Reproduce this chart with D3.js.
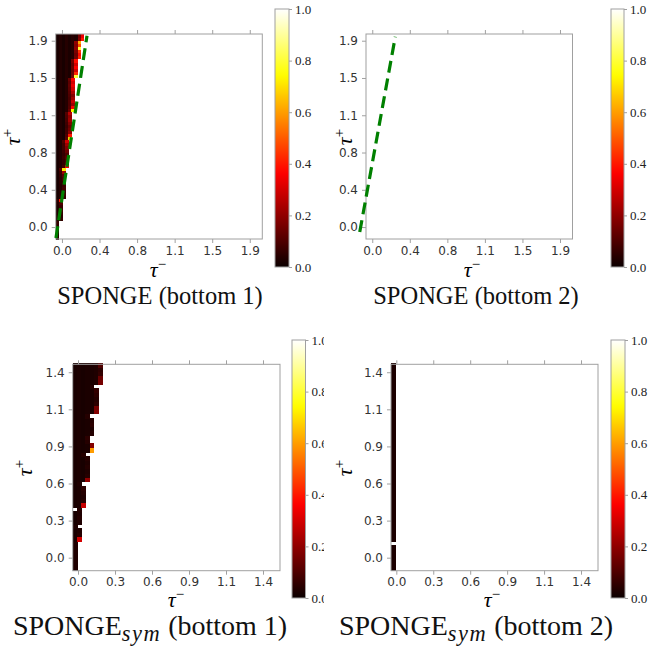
<!DOCTYPE html>
<html><head><meta charset="utf-8">
<script src="https://cdn.jsdelivr.net/npm/d3@7"></script>
<style>body{margin:0;background:#fff}svg{display:block}</style>
</head><body>
<svg id="chart" width="648" height="646"></svg>
<script>
// ---------------- DATA ----------------
const topTickValues = [0, 0.375, 0.75, 1.125, 1.5, 1.875];
const topTickLabels = ["0.0", "0.4", "0.8", "1.1", "1.5", "1.9"];
const bottomTickValues = [0, 0.285, 0.57, 0.855, 1.14, 1.425];
const bottomTickLabels = ["0.0", "0.3", "0.6", "0.9", "1.1", "1.4"];
const colorbarTicks = [0, 0.2, 0.4, 0.6, 0.8, 1.0];

const titles = ["SPONGE (bottom 1)", "SPONGE (bottom 2)", "SPONGE|sym| (bottom 1)", "SPONGE|sym| (bottom 2)"];

// top grid: tau step and origin
const topGridStep = 0.03125;
const topGridX0 = -0.0625, topGridY0 = -0.12;
// SPONGE (bottom 1): filled cells per row (bottom to top), last-cell value, second-last value
const topLeftRowWidth = [1,1,1,1,1,1, 2,2,2,2,2,2,2, 3,3,3,3,3,3,3,3,3,3, 4,4,4,4,4,4,4,4,4, 5,5,5,5,5,5,5,5,5, 6,6,6,6,6,6,6,6,6,6,6, 7,7,7,7,7,7, 8,8,8,8,8,8, 9,9];
const topLeftEdge = [0.04,0.04,0.05,0.04,0.05,0.06, 0.06,0.05,0.06,0.08,0.07,0.10,0.40, 0.06,0.07,0.06,0.08,0.07,0.06,0.09,0.12,0.22,0.72, 0.35,0.12,0.10,0.12,0.10,0.14,0.18,0.22,0.30, 0.68,0.40,0.20,0.16,0.14,0.18,0.22,0.20,0.26, 0.74,0.36,0.22,0.28,0.22,0.18,0.24,0.30,0.34,0.30,0.36, 0.80,0.42,0.30,0.36,0.30,0.38, 0.42,0.38,0.44,0.80,0.48,0.62, 0.40,0.34];
const topLeftInner = [0.03,0.03,0.03,0.03,0.03,0.03, 0.03,0.03,0.03,0.03,0.03,0.04,0.05, 0.04,0.04,0.04,0.04,0.04,0.05,0.05,0.06,0.07,0.10, 0.08,0.06,0.06,0.07,0.06,0.07,0.08,0.08,0.10, 0.12,0.10,0.08,0.08,0.07,0.08,0.09,0.10,0.11, 0.14,0.11,0.10,0.10,0.09,0.10,0.11,0.12,0.13,0.12,0.14, 0.16,0.14,0.13,0.14,0.13,0.15, 0.16,0.15,0.17,0.20,0.18,0.20, 0.18,0.16];
const topLeftColBase = [0.02, 0.035, 0.02, 0.04, 0.025, 0.04, 0.03, 0.05, 0.06];
// dashed reference line
const topLeftLineX = [-0.06, 0.25], topLeftLineY = [-0.11, 1.925];
const topRightLineX = [-0.125, 0.23], topRightLineY = [-0.05, 1.915];

// bottom grid
const bottomGridStep = 0.0326;
const bottomGridX0 = -0.041, bottomGridY0 = -0.1;
const bottomLeftRowWidth = [1,1,1,1,1,1,1, 2,2,2, 1, 2,2,2,2, 3,3,3,3,3, 2, 4,4,4,4,4,4, 3, 5,5, 4,4, 5,5,5,5, 4, 6,6,6,6,6,6, 5, 7,7,7,7,7];
const bottomLeftEdge = [0.03,0.03,0.03,0.03,0.03,0.03,0.03, 0.30,0.04,0.03, 0.03, 0.03,0.04,0.03,0.04, 0.28,0.04,0.03,0.04,0.05, 0.03, 0.20,0.04,0.03,0.04,0.03,0.04, 0.04, 0.60,0.18, 0.04,0.05, 0.04,0.03,0.05,0.04, 0.04, 0.18,0.16,0.05,0.04,0.05,0.06, 0.04, 0.16,0.14,0.06,0.05,0.10];
const bottomLeftColBase = [0.02, 0.025, 0.02, 0.025, 0.025, 0.03, 0.03];
const bottomLeftHoles = [[14, 0]];
const bottomRightRowWidth = [1,1,1,1,1,1,0, 1,1,1,1,1,1,1,1,1,1,1,1,1,1,1,1,1,1,1,1,1,1,1,1,1,1,1,1,1,1,1,1,1,1,1,1,1,1,1,1,1,1];
const bottomRightColBase = [0.025];

// ---------------- HELPERS ----------------
function hot(v) {
  const r = Math.min(1, 0.0416 + (1 - 0.0416) * v / 0.365079);
  const g = Math.max(0, Math.min(1, (v - 0.365079) / (0.746032 - 0.365079)));
  const b = Math.max(0, Math.min(1, (v - 0.746032) / (1 - 0.746032)));
  return d3.rgb(r * 255, g * 255, b * 255).toString();
}

const svg = d3.select("#chart");
const defs = svg.append("defs");
const grad = defs.append("linearGradient").attr("id", "hotGrad")
  .attr("x1", 0).attr("y1", 1).attr("x2", 0).attr("y2", 0);
d3.range(0, 1.0001, 0.02).forEach(t => grad.append("stop").attr("offset", t).attr("stop-color", hot(t)));

const tickFont = "'DejaVu Sans', sans-serif";
const serif = "'Liberation Serif', 'DejaVu Serif', serif";
const spineColor = "#a0a0a0";

function drawPanel(p) {
  const g = svg.append("g");
  if (p.cover) {
    g.append("rect").attr("x", p.cover[0]).attr("y", p.cover[1])
      .attr("width", p.cover[2]).attr("height", p.cover[3]).attr("fill", "#fff");
  }
  const x = d3.scaleLinear().domain(p.xDomain).range([p.box.x0, p.box.x1]);
  const y = d3.scaleLinear().domain(p.yDomain).range([p.box.y1, p.box.y0]);

  // heatmap cells
  if (p.rows) {
    const cells = [];
    p.rows.forEach((n, r) => {
      for (let c = 0; c < n; c++) {
        if (p.holes && p.holes.some(h => h[0] === r && h[1] === c)) continue;
        let v = p.colBase[Math.min(c, p.colBase.length - 1)];
        if (p.edge && c === n - 1) v = p.edge[r];
        else if (p.inner && c === n - 2) v = p.inner[r];
        cells.push({ r, c, v });
      }
    });
    g.append("g").attr("shape-rendering", "crispEdges").selectAll("rect").data(cells).join("rect")
      .attr("x", d => x(p.gx0 + d.c * p.step))
      .attr("y", d => y(p.gy0 + (d.r + 1) * p.step))
      .attr("width", d => x(p.gx0 + (d.c + 1) * p.step) - x(p.gx0 + d.c * p.step) + 0.6)
      .attr("height", d => y(p.gy0 + d.r * p.step) - y(p.gy0 + (d.r + 1) * p.step) + 0.6)
      .attr("fill", d => hot(d.v));
  }

  // frame
  g.append("rect").attr("x", p.box.x0).attr("y", p.box.y0)
    .attr("width", p.box.x1 - p.box.x0).attr("height", p.box.y1 - p.box.y0)
    .attr("fill", "none").attr("stroke", spineColor).attr("stroke-width", 1);

  const fmt = (labels, vals) => d => labels[vals.indexOf(d)];
  const ax = g.append("g").attr("transform", `translate(0,${p.box.y1})`)
    .call(d3.axisBottom(x).tickValues(p.ticks).tickFormat(fmt(p.labels, p.ticks)).tickSize(4).tickPadding(3));
  const axTop = g.append("g").attr("transform", `translate(0,${p.box.y0})`)
    .call(d3.axisTop(x).tickValues(p.ticks).tickFormat("").tickSize(4));
  const ay = g.append("g").attr("transform", `translate(${p.box.x0},0)`)
    .call(d3.axisLeft(y).tickValues(p.ticks).tickFormat(fmt(p.labels, p.ticks)).tickSize(4).tickPadding(4));
  [ax, axTop, ay].forEach(a => {
    a.select(".domain").remove();
    a.selectAll(".tick line").attr("stroke", spineColor);
    a.selectAll(".tick text").attr("font-family", tickFont).attr("font-size", 12).attr("fill", "#333");
  });

  // dashed line
  if (p.lineX) {
    g.append("line")
      .attr("x1", x(p.lineX[0])).attr("y1", y(p.lineY[0]))
      .attr("x2", x(p.lineX[1])).attr("y2", y(p.lineY[1]))
      .attr("stroke", "#008000").attr("stroke-width", 3.2)
      .attr("stroke-dasharray", "12,6");
  }

  // axis labels
  const xl = g.append("text").attr("x", p.xlab[0]).attr("y", p.xlab[1])
    .attr("text-anchor", "middle").attr("font-family", serif).attr("font-size", 22);
  xl.append("tspan").attr("font-style", "italic").text("τ");
  xl.append("tspan").attr("font-size", 15).attr("dy", -8).text("−");
  const yl = g.append("text").attr("transform", `translate(${p.ylab[0]},${p.ylab[1]}) rotate(-90)`)
    .attr("text-anchor", "middle").attr("font-family", serif).attr("font-size", 22);
  yl.append("tspan").attr("font-style", "italic").text("τ");
  yl.append("tspan").attr("font-size", 15).attr("dy", -8).text("+");

  // colorbar
  const cb = p.cb;
  g.append("rect").attr("x", cb.x).attr("y", cb.y0).attr("width", cb.w).attr("height", cb.y1 - cb.y0)
    .attr("fill", "url(#hotGrad)").attr("stroke", spineColor).attr("stroke-width", 1);
  const cs = d3.scaleLinear().domain([0, 1]).range([cb.y1, cb.y0]);
  const ac = g.append("g").attr("transform", `translate(${cb.x + cb.w},0)`)
    .call(d3.axisRight(cs).tickValues(colorbarTicks).tickFormat(d3.format(".1f")).tickSize(3).tickPadding(3));
  ac.select(".domain").remove();
  ac.selectAll(".tick line").attr("stroke", spineColor);
  ac.selectAll(".tick text").attr("font-family", serif).attr("font-size", 13).attr("fill", "#222");

  // title
  const parts = p.title.split("|");
  const t = g.append("text").attr("x", p.titlePos[0]).attr("y", p.titlePos[1])
    .attr("text-anchor", "middle").attr("font-family", serif).attr("font-size", p.titleSize).attr("fill", "#111");
  t.append("tspan").text(parts[0]);
  if (parts.length > 1) {
    t.append("tspan").attr("font-style", "italic").attr("font-size", p.titleSize * 0.8)
      .attr("letter-spacing", 1.5).attr("dy", 6).text(parts[1]);
    t.append("tspan").attr("dy", -6).text(parts[2]);
  }
}

const topX = [-0.0625, 2.0], topY = [-0.12, 1.9425];
const botX = [-0.041, 1.556], botY = [-0.1, 1.486];

drawPanel({
  box: { x0: 55.7, x1: 262.3, y0: 34, y1: 239 }, xDomain: topX, yDomain: topY,
  ticks: topTickValues, labels: topTickLabels,
  rows: topLeftRowWidth, edge: topLeftEdge, inner: topLeftInner, colBase: topLeftColBase,
  step: topGridStep, gx0: topGridX0, gy0: topGridY0,
  lineX: topLeftLineX, lineY: topLeftLineY,
  xlab: [158, 277], ylab: [20, 137],
  cb: { x: 275, w: 14, y0: 9, y1: 267 },
  title: titles[0], titlePos: [160, 304], titleSize: 24.5
});
drawPanel({
  box: { x0: 366, x1: 572.5, y0: 34, y1: 239 }, xDomain: topX, yDomain: topY,
  ticks: topTickValues, labels: topTickLabels,
  lineX: topRightLineX, lineY: topRightLineY,
  xlab: [472, 277], ylab: [352, 137],
  cb: { x: 611, w: 13, y0: 9, y1: 267 },
  title: titles[1], titlePos: [476, 304], titleSize: 24.5
});
drawPanel({
  box: { x0: 72.7, x1: 280, y0: 364.3, y1: 570.7 }, xDomain: botX, yDomain: botY,
  ticks: bottomTickValues, labels: bottomTickLabels,
  rows: bottomLeftRowWidth, edge: bottomLeftEdge, colBase: bottomLeftColBase, holes: bottomLeftHoles,
  step: bottomGridStep, gx0: bottomGridX0, gy0: bottomGridY0,
  xlab: [176, 607], ylab: [32, 468],
  cb: { x: 292, w: 13.5, y0: 340, y1: 598 },
  title: titles[2], titlePos: [150, 635], titleSize: 28
});
drawPanel({
  cover: [324, 318, 324, 328],
  box: { x0: 391, x1: 598, y0: 364.3, y1: 570.7 }, xDomain: botX, yDomain: botY,
  ticks: bottomTickValues, labels: bottomTickLabels,
  rows: bottomRightRowWidth, colBase: bottomRightColBase,
  step: bottomGridStep, gx0: bottomGridX0, gy0: bottomGridY0,
  xlab: [492, 607], ylab: [352, 468],
  cb: { x: 611, w: 14, y0: 340, y1: 598 },
  title: titles[3], titlePos: [476, 635], titleSize: 28
});
</script>
</body></html>
